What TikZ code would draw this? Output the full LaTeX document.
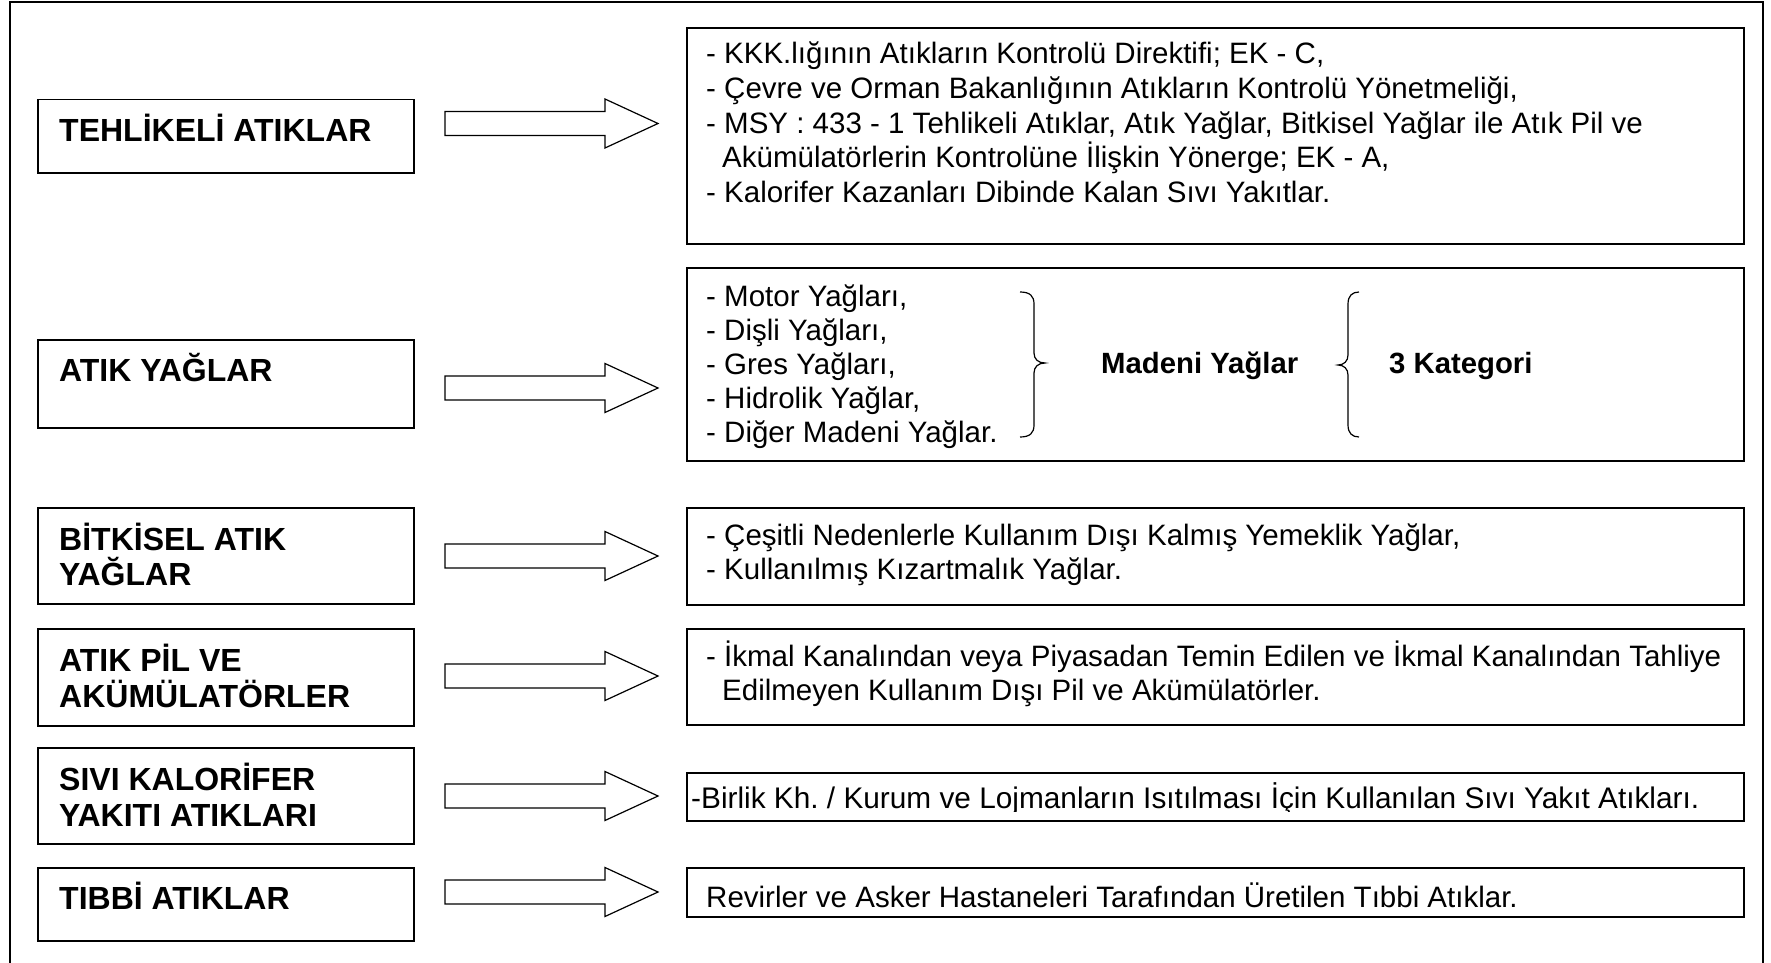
\documentclass[tikz,border=0pt]{standalone}
\usepackage{fontspec}
\setmainfont{Liberation Sans}
\frenchspacing
\begin{document}
\begin{tikzpicture}[x=1pt,y=-1pt,
  frameline/.style={line width=2.5pt},
  lbox/.style={draw, line width=1.5pt, anchor=north west, inner sep=0pt, minimum width=376pt},
  rbox/.style={draw, line width=1.8pt, anchor=north west, inner sep=0pt, minimum width=1057pt},
  barrow/.style={draw, line width=1.2pt, line join=miter},
  lt/.style={anchor=base west, inner sep=0pt, font=\bfseries\fontsize{32}{36}\selectfont},
  rt/.style={anchor=base west, inner sep=0pt, font=\fontsize{29.5}{33}\selectfont},
  mt/.style={anchor=base west, inner sep=0pt, font=\bfseries\fontsize{29.3}{33}\selectfont},
  brace/.style={draw, line width=1.2pt}
]
\useasboundingbox (0,0) rectangle (1771,963);
% outer frame
\draw[frameline] (10,975) -- (10,2) -- (1763,2) -- (1763,975);

% left boxes
\node[lbox, minimum height=73pt] (l1) at (37,99) {};
\node[lbox, minimum height=88pt] (l2) at (37,339) {};
\node[lbox, minimum height=96pt] (l3) at (37,507) {};
\node[lbox, minimum height=97pt] (l4) at (37,628) {};
\node[lbox, minimum height=96pt] (l5) at (37,747) {};
\node[lbox, minimum height=73pt] (l6) at (37,867) {};

% right boxes
\node[rbox, minimum height=216pt] (r1) at (686,27) {};
\node[rbox, minimum height=193pt] (r2) at (686,267) {};
\node[rbox, minimum height=97pt] (r3) at (686,507) {};
\node[rbox, minimum height=96pt] (r4) at (686,628) {};
\node[rbox, minimum height=48pt] (r5) at (686,772) {};
\node[rbox, minimum height=49pt] (r6) at (686,867) {};

% block arrows
\foreach \y in {123.5,388,556,676,796,892}{
  \draw[barrow] (445,{\y-12}) -- (605,{\y-12}) -- (605,{\y-24.5}) -- (658,\y)
    -- (605,{\y+24.5}) -- (605,{\y+12}) -- (445,{\y+12}) -- cycle;
}

% left texts
\node[lt] (lt1) at (59,141) {TEHLİKELİ ATIKLAR};
\node[lt] (lt2) at (59,381) {ATIK YAĞLAR};
\node[lt] (lt3a) at (59,550) {BİTKİSEL ATIK};
\node[lt] (lt3b) at (59,585) {YAĞLAR};
\node[lt] (lt4a) at (59,671) {ATIK PİL VE};
\node[lt] (lt4b) at (59,707) {AKÜMÜLATÖRLER};
\node[lt] (lt5a) at (59,790) {SIVI KALORİFER};
\node[lt] (lt5b) at (59,826) {YAKITI ATIKLARI};
\node[lt] (lt6) at (59,909) {TIBBİ ATIKLAR};

% right box 1
\node[rt] (r1a) at (706,64) {- KKK.lığının Atıkların Kontrolü Direktifi; EK - C,};
\node[rt] (r1b) at (706,98.5) {- Çevre ve Orman Bakanlığının Atıkların Kontrolü Yönetmeliği,};
\node[rt] (r1c) at (706,133) {- MSY : 433 - 1 Tehlikeli Atıklar, Atık Yağlar, Bitkisel Yağlar ile Atık Pil ve};
\node[rt] (r1d) at (722,167.5) {Akümülatörlerin Kontrolüne İlişkin Yönerge; EK - A,};
\node[rt] (r1e) at (706,202) {- Kalorifer Kazanları Dibinde Kalan Sıvı Yakıtlar.};

% right box 2
\node[rt] (r2a) at (706,306) {- Motor Yağları,};
\node[rt] (r2b) at (706,340) {- Dişli Yağları,};
\node[rt] (r2c) at (706,374) {- Gres Yağları,};
\node[rt] (r2d) at (706,408) {- Hidrolik Yağlar,};
\node[rt] (r2e) at (706,442) {- Diğer Madeni Yağlar.};
\draw[brace] (1020,292) .. controls (1030,292) and (1034,296) .. (1034,304)
  -- (1034,353) .. controls (1034,359) and (1038,363) .. (1045,363)
  .. controls (1038,363) and (1034,367) .. (1034,373)
  -- (1034,425) .. controls (1034,433) and (1030,437) .. (1020,437);
\node[mt] (mad) at (1101,373) {Madeni Yağlar};
\draw[brace] (1359,292) .. controls (1352,292) and (1348,296) .. (1348,304)
  -- (1348,355) .. controls (1348,361) and (1344,365) .. (1338,365)
  .. controls (1344,365) and (1348,369) .. (1348,375)
  -- (1348,425) .. controls (1348,433) and (1352,437) .. (1359,437);
\node[mt] (kat) at (1389,373) {3 Kategori};

% right box 3
\node[rt] (r3a) at (706,545) {- Çeşitli Nedenlerle Kullanım Dışı Kalmış Yemeklik Yağlar,};
\node[rt] (r3b) at (706,579) {- Kullanılmış Kızartmalık Yağlar.};

% right box 4
\node[rt] (r4a) at (706,666) {- İkmal Kanalından veya Piyasadan Temin Edilen ve İkmal Kanalından Tahliye};
\node[rt] (r4b) at (722,700) {Edilmeyen Kullanım Dışı Pil ve Akümülatörler.};

% right box 5 (text clipped at the bottom as in the original)
\begin{scope}
\clip (688,775) rectangle (1740,811);
\node[rt, font=\fontsize{29.8}{33}\selectfont] (r5a) at (691,808) {-Birlik Kh. / Kurum ve Lojmanların Isıtılması İçin Kullanılan Sıvı Yakıt Atıkları.};
\end{scope}

% right box 6
\node[rt] (r6a) at (706,907) {Revirler ve Asker Hastaneleri Tarafından Üretilen Tıbbi Atıklar.};
\end{tikzpicture}
\end{document}
